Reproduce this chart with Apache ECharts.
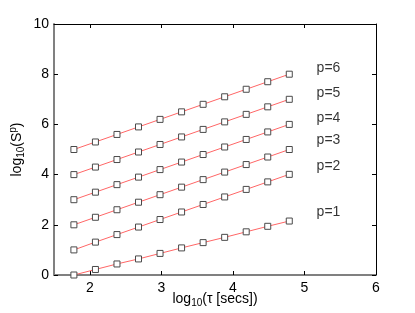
<!DOCTYPE html>
<html><head><meta charset="utf-8">
<script src="https://cdn.jsdelivr.net/npm/echarts@6/dist/echarts.min.js"></script>
<style>html,body{margin:0;padding:0;background:#fff}#c{width:415px;height:313px}</style>
</head><body><div id="c"></div>
<script>
const logTau = [1.778, 2.079, 2.380, 2.681, 2.982, 3.283, 3.584, 3.885, 4.186, 4.487, 4.788];
const p1 = [0.00, 0.22, 0.44, 0.64, 0.86, 1.08, 1.29, 1.50, 1.72, 1.94, 2.15];
const p2 = [1.00, 1.31, 1.61, 1.91, 2.21, 2.51, 2.81, 3.11, 3.41, 3.71, 4.01];
const p3 = [2.00, 2.30, 2.60, 2.90, 3.20, 3.50, 3.80, 4.10, 4.40, 4.70, 5.00];
const p4 = [3.00, 3.30, 3.60, 3.90, 4.20, 4.50, 4.80, 5.10, 5.40, 5.70, 6.00];
const p5 = [4.00, 4.30, 4.60, 4.90, 5.20, 5.50, 5.80, 6.10, 6.40, 6.70, 7.00];
const p6 = [5.00, 5.30, 5.60, 5.90, 6.20, 6.50, 6.80, 7.10, 7.40, 7.70, 8.00];
const seriesNames = ['p=1','p=2','p=3','p=4','p=5','p=6'];
const xTicks = [2, 3, 4, 5, 6];
const labelY = [2.5, 4.35, 5.38, 6.25, 7.25, 8.25];

const chart = echarts.init(document.getElementById('c'));
const font = 'Liberation Sans, Arial, sans-serif';
const all = [p1,p2,p3,p4,p5,p6];
const series = all.map((arr, i) => ({
  type: 'line', name: seriesNames[i],
  data: arr.map((v, k) => [logTau[k], v]),
  symbol: 'rect', symbolSize: 6,
  lineStyle: {color: '#ff6666', width: 1},
  itemStyle: {color: '#ffffff', borderColor: '#4a4a4a', borderWidth: 1},
  animation: false,
  label: {show: false}
}));
series.push({
  type: 'scatter', symbolSize: 0, silent: true, animation: false,
  data: seriesNames.map((n, i) => ({value: [5.17, labelY[i]], name: n})),
  label: {show: true, position: 'right', formatter: p => p.name, color: '#000', fontSize: 14, fontFamily: font, distance: 0}
});
chart.setOption({
  animation: false,
  grid: {left: 54, top: 24, right: 39, bottom: 38, outerBoundsMode: 'none', containLabel: false},
  xAxis: [{
    type: 'value', min: 1.5, max: 6,
    axisLine: {show: true, onZero: false, lineStyle: {color: '#808080', width: 2}},
    axisTick: {show: true, inside: true, length: 4, customValues: xTicks, lineStyle: {color: '#000'}},
    axisLabel: {customValues: xTicks, color: '#000', fontSize: 14, fontFamily: font, margin: 6},
    splitLine: {show: false},
    name: '{a|log}{s|10}{a|(τ [secs])}', nameLocation: 'middle', nameGap: 15, nameMoveOverlap: false,
    nameTextStyle: {rich: {a: {fontSize: 14, fontFamily: font, color: '#000'}, s: {fontSize: 10, fontFamily: font, color: '#000', padding: [8,0,0,0]}}}
  }, {
    type: 'value', min: 1.5, max: 6, position: 'top',
    axisLine: {show: true, onZero: false, lineStyle: {color: '#000', width: 1}},
    axisTick: {show: true, inside: true, length: 4, customValues: xTicks, lineStyle: {color: '#000'}},
    axisLabel: {show: false}, splitLine: {show: false}
  }],
  yAxis: [{
    type: 'value', min: 0, max: 10, interval: 2,
    axisLine: {show: true, onZero: false, lineStyle: {color: '#808080', width: 2}},
    axisTick: {show: true, inside: true, length: 4, lineStyle: {color: '#000'}},
    axisLabel: {color: '#000', fontSize: 14, fontFamily: font, margin: 5},
    splitLine: {show: false},
    name: '{a|log}{s|10}{a|(S}{u|p}{a|)}', nameLocation: 'middle', nameGap: 28, nameRotate: 90, nameMoveOverlap: false,
    nameTextStyle: {rich: {a: {fontSize: 14, fontFamily: font, color: '#000'}, s: {fontSize: 10, fontFamily: font, color: '#000', padding: [8,0,0,0]}, u: {fontSize: 10, fontFamily: font, color: '#000', padding: [0,0,8,0]}}}
  }, {
    type: 'value', min: 0, max: 10, interval: 2, position: 'right',
    axisLine: {show: true, onZero: false, lineStyle: {color: '#000', width: 1}},
    axisTick: {show: true, inside: true, length: 4, lineStyle: {color: '#000'}},
    axisLabel: {show: false}, splitLine: {show: false}
  }],
  series: series
});
</script></body></html>
